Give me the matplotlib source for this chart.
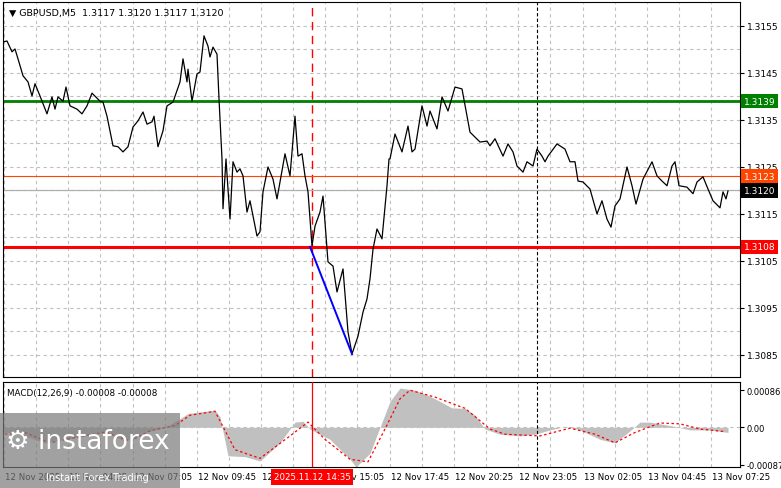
import matplotlib
matplotlib.use("Agg")
import matplotlib.pyplot as plt
import matplotlib.transforms as mtransforms

# time axis in 2.5-minute units (half a M5 bar)
price_t = [3,7,12,15,18,23,28,32,35,40,47,52,55,58,63,66,70,77,82,87,92,100,103,107,113,118,123,128,133,138,143,147,152,154,158,163,167,173,180,183,187,188,192,197,200,204,208,210,213,217,219,222,223,226,230,233,237,240,243,247,250,257,260,263,268,273,277,285,290,295,298,302,305,308,312,315,320,323,328,333,337,343,348,352,358,363,367,370,373,377,382,387,389,390,395,402,408,412,415,422,427,430,437,442,448,455,462,470,480,487,490,495,503,508,513,517,523,527,533,537,542,545,548,557,565,570,575,578,583,590,597,602,607,611,615,620,627,632,636,643,652,657,662,667,672,675,679,687,693,697,703,708,713,720,723,726,728]
price = [1.31516,1.31518,1.31495,1.31501,1.31480,1.31444,1.31431,1.31401,1.31427,1.31401,1.31363,1.31399,1.31373,1.31399,1.31390,1.31420,1.31380,1.31373,1.31363,1.31380,1.31407,1.31390,1.31388,1.31358,1.31295,1.31293,1.31282,1.31293,1.31335,1.31348,1.31367,1.31341,1.31346,1.31358,1.31293,1.31327,1.31380,1.31388,1.31431,1.31480,1.31431,1.31458,1.31390,1.31448,1.31452,1.31529,1.31507,1.31484,1.31505,1.31490,1.31395,1.31267,1.31161,1.31267,1.31139,1.31261,1.31239,1.31246,1.31231,1.31154,1.31178,1.31103,1.31112,1.31197,1.31250,1.31224,1.31182,1.31278,1.31231,1.31358,1.31273,1.31278,1.31231,1.31197,1.31082,1.31124,1.31154,1.31188,1.31048,1.31039,1.30984,1.31033,1.30899,1.30852,1.30890,1.30941,1.30969,1.31012,1.31075,1.31118,1.31097,1.31210,1.31267,1.31267,1.31320,1.31282,1.31337,1.31282,1.31288,1.31380,1.31337,1.31369,1.31331,1.31399,1.31369,1.31420,1.31416,1.31324,1.31303,1.31305,1.31295,1.31310,1.31273,1.31299,1.31282,1.31252,1.31239,1.31261,1.31252,1.31288,1.31273,1.31261,1.31273,1.31299,1.31288,1.31261,1.31261,1.31220,1.31218,1.31203,1.31150,1.31178,1.31139,1.31122,1.31167,1.31182,1.31250,1.31210,1.31171,1.31224,1.31261,1.31231,1.31220,1.31210,1.31252,1.31261,1.31210,1.31207,1.31193,1.31218,1.31229,1.31203,1.31178,1.31163,1.31197,1.31182,1.31199]

hist_t = [3,10,20,45,65,85,105,125,145,165,180,188,205,215,220,228,245,260,280,295,303,310,330,350,356,370,380,390,400,415,430,440,452,465,475,485,500,520,535,550,565,580,600,615,628,635,640,650,660,675,690,710,728]
hist = [-0.00012,-0.00012,-0.00016,-0.00036,-0.00028,-0.0002,-0.00012,-0.00032,-0.00012,0.0,0.0002,0.00032,0.00037,0.0004,0.00024,-0.00066,-0.00068,-0.00078,-0.00036,0.00012,0.00014,-0.00004,-0.00028,-0.00074,-0.00092,-0.0006,0.0,0.0006,0.00091,0.00086,0.00072,0.0006,0.00045,0.00044,0.00028,-0.00004,-0.00016,-0.0002,-0.00016,-0.00006,0.00002,-0.00006,-0.00028,-0.00036,-0.00012,0.00002,0.00012,0.00012,0.00008,0.00002,-0.00006,-0.00006,-0.00012]
sig_t = [5,25,50,75,105,130,150,175,190,215,235,260,290,308,325,350,368,385,400,410,435,465,490,505,540,570,595,615,635,660,680,700,725]
sig = [-0.00016,-0.00012,-0.00036,-0.00024,-0.00011,-0.00032,-0.00008,0.00004,0.00028,0.00037,-0.00052,-0.00072,-0.0002,0.00012,-0.00028,-0.00074,-0.0008,-0.00004,0.00066,0.00086,0.0007,0.00044,-0.00004,-0.00016,-0.0002,-0.00002,-0.00016,-0.00036,-0.00012,0.0001,0.00008,-0.00004,-0.0001]

time_ticks = [4,68,133,197,261,325,390,454,518,583,647,711]
time_labels = ["12 Nov 2025","12 Nov 04:25","12 Nov 07:05","12 Nov 09:45","12 Nov 12:25","12 Nov 15:05",
               "12 Nov 17:45","12 Nov 20:25","12 Nov 23:05","13 Nov 02:05","13 Nov 04:45","13 Nov 07:25"]
price_ticks = [1.3155,1.3145,1.3135,1.3125,1.3115,1.3105,1.3095,1.3085]
grid_prices = [1.3155,1.3150,1.3145,1.3140,1.3135,1.3130,1.3125,1.3120,1.3115,1.3110,1.3105,1.3100,1.3095,1.3090,1.3085]
resist, support, ask, bid = 1.3139, 1.3108, 1.3123, 1.3120
event_t, day_t = 312, 537
blue_t = [310, 352]
blue_p = [1.3108, 1.30852]

plt.rcParams['font.family'] = ['DejaVu Sans']
fig = plt.figure(figsize=(7.81, 4.89), dpi=100)
ax = fig.add_axes([3/781, 1-378/489, 737/781, 375/489])
mx = fig.add_axes([3/781, 1-468/489, 737/781, 85/489])
XL = (3, 740)
for a in (ax, mx):
    a.set_xlim(*XL)
    for s in a.spines.values():
        s.set_color('black'); s.set_linewidth(0.8)
    a.set_xticks([])
    a.yaxis.tick_right()
    a.tick_params(axis='y', length=3, labelsize=6.5, pad=2)
    vg = [t + 32.2 * k for t in time_ticks for k in (0, 1)]
    for v in vg:
        a.axvline(v, color='#c0c0c0', ls=(0, (3, 3)), lw=0.8, zorder=0)

ax.set_ylim(1.30803, 1.31601)
ax.set_yticks(price_ticks)
ax.set_yticklabels([f"{p:.4f}" for p in price_ticks])
for g in grid_prices:
    ax.axhline(g, color='#c0c0c0', ls=(0, (3, 3)), lw=0.8, zorder=0)
ax.axvline(event_t, color='red', ls=(0, (6, 4)), lw=1, zorder=1)
ax.axvline(day_t, color='black', ls=(0, (3, 2)), lw=0.8, zorder=1)
ax.axhline(bid, color='#b0b0b0', lw=0.9, zorder=1)
ax.axhline(ask, color='#ff4500', lw=0.8, zorder=1)
ax.axhline(resist, color='green', lw=2, zorder=2)
ax.axhline(support, color='red', lw=2.2, zorder=2)
ax.plot(price_t, price, color='black', lw=0.9, zorder=3)
ax.plot(blue_t, blue_p, color='blue', lw=1.4, zorder=4)
ax.text(0.008, 0.985, "\u25bc GBPUSD,M5  1.3117 1.3120 1.3117 1.3120", transform=ax.transAxes,
        fontsize=6.8, va='top', ha='left')
tr = mtransforms.blended_transform_factory(ax.transAxes, ax.transData)
for val, fc, tc in [(resist, 'green', 'white'), (ask, '#ff4500', 'white'),
                    (bid, 'black', 'white'), (support, 'red', 'white')]:
    ax.text(1.005, val, f"{val:.4f}", transform=tr, fontsize=6.5, color=tc, va='center', ha='left',
            bbox=dict(boxstyle='square,pad=0.3', fc=fc, ec='none'), zorder=10)

mx.set_ylim(-0.00092, 0.00105)
mx.set_yticks([0.00086, 0.0, -0.00087])
mx.set_yticklabels(["0.00086", "0.00", "-0.00087"])
mx.tick_params(axis='y', labelsize=6)
mx.axhline(0, color='#c0c0c0', ls=(0, (3, 3)), lw=0.8, zorder=0)
mx.fill_between(hist_t, hist, 0, color='#c0c0c0', lw=0, zorder=1)
mx.plot(sig_t, sig, color='red', ls=(0, (2, 2)), lw=0.9, zorder=2)
mx.axvline(event_t, color='red', lw=0.9, zorder=3)
mx.axvline(day_t, color='black', ls=(0, (3, 2)), lw=0.8, zorder=3)
mx.text(0.006, 0.93, "MACD(12,26,9) -0.00008 -0.00008", transform=mx.transAxes, fontsize=6.3,
        va='top', ha='left')

for t, lab in zip(time_ticks, time_labels):
    x = (t - XL[0]) / (XL[1] - XL[0])
    fig.text(3/781 + x * 737/781 + 1/781, 1-478/489, lab, fontsize=6.2, ha='left', va='center')
ev_x = 3/781 + (event_t - XL[0]) / (XL[1] - XL[0]) * 737/781
fig.text(ev_x, 1-478/489, "2025.11.12 14:35", fontsize=6.2, color='white', ha='center', va='center',
         bbox=dict(boxstyle='square,pad=0.35', fc='red', ec='none'), zorder=10)

fig.patches.append(matplotlib.patches.Rectangle((0, 0), 180/781, 75/489, transform=fig.transFigure,
                   fc='#7a7a7a', alpha=0.7, ec='none', zorder=20))
fig.text(6/781, 1-442/489, "\u2699 instaforex", fontsize=19, color='white', ha='left', va='center', zorder=21)
fig.text(46/781, 1-478/489, "Instant Forex Trading", fontsize=7, color='white', ha='left', va='center', zorder=21)

fig.savefig("out.png", dpi=100)
